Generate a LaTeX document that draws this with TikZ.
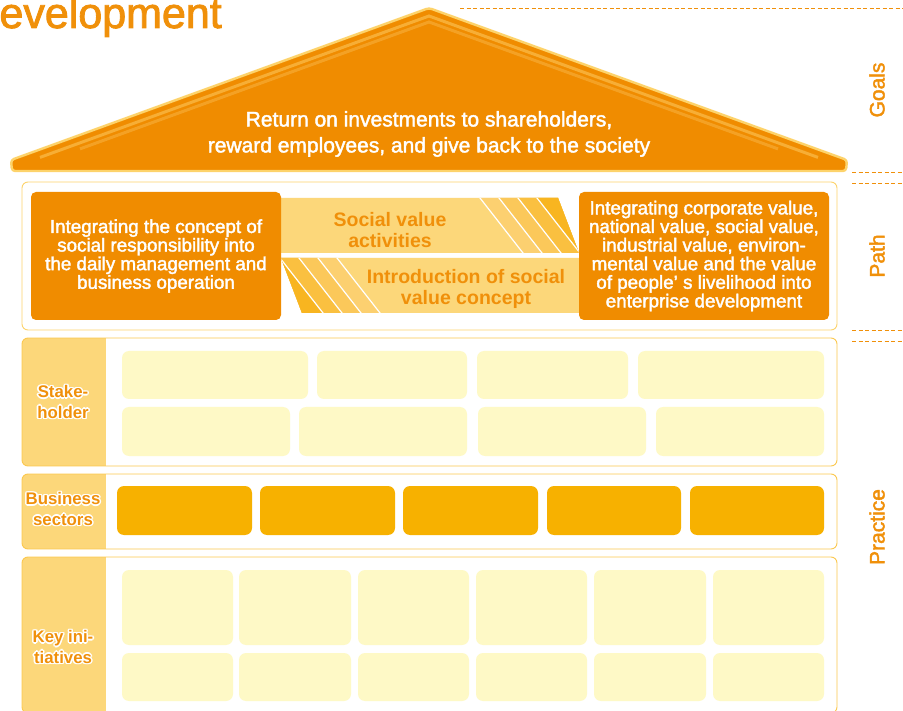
\documentclass[tikz,border=0pt]{standalone}
\usepackage{fontspec}
\setmainfont{Liberation Sans}
\newfontfamily\medfont{Liberation Sans}[FakeBold=2]
\usetikzlibrary{calc}
\definecolor{dorange}{HTML}{F08C00}
\definecolor{torange}{HTML}{F0900A}
\definecolor{band}{HTML}{FCD77A}
\definecolor{sA}{HTML}{FCD070}
\definecolor{sB}{HTML}{FBC85A}
\definecolor{sC}{HTML}{FAC040}
\definecolor{sD}{HTML}{F8B520}
\definecolor{cream}{HTML}{FEF9C6}
\definecolor{gold}{HTML}{F7B100}
\definecolor{rim}{HTML}{FBC84E}
\definecolor{roofrim}{HTML}{FDD36B}
\definecolor{roofA}{HTML}{F7AE35}
\definecolor{roofB}{HTML}{F4A124}
\tikzset{
  guide/.style={draw=torange, line width=0.9pt, dash pattern=on 4pt off 2.5pt},
  orangebox/.style={fill=dorange, rounded corners=5pt, minimum width=250pt, minimum height=128pt,
     text=white, align=center, inner sep=0pt, font=\medfont\fontsize{18.8}{18.6}\selectfont},
  bandtext/.style={text=torange, align=center, inner sep=0pt, font=\bfseries\fontsize{19.5}{21.5}\selectfont},
  sidelbl/.style={align=center, inner sep=0pt, font=\bfseries\fontsize{16.8}{20.5}\selectfont},
  sectlbl/.style={text=torange, rotate=90, inner sep=0pt, font=\medfont\fontsize{21}{21}\selectfont},
  cellA/.style={fill=cream, rounded corners=7pt},
  cellB/.style={fill=gold, rounded corners=7pt},
}
\newcommand\practicepanel[2]{%
  \path[fill=white, rounded corners=6pt] (22,#1) rectangle (837,#2);
  \begin{scope}
    \clip[rounded corners=6pt] (22,#1) rectangle (837,#2);
    \fill[band] (22,#1) rectangle (106,#2);
  \end{scope}
  \draw[rim, line width=0.9pt, rounded corners=6pt] (22,#1) rectangle (837,#2);
}
\newcommand\halotext[3]{%
  \foreach \a in {0,45,...,315} {\node[sidelbl, text=white] (#1h\a) at ($(63,#2)+(\a:1.6)$) {#3};}
  \node[sidelbl, text=torange] (#1) at (63,#2) {#3};
}
\begin{document}
\begin{tikzpicture}[x=1pt,y=-1pt]
\useasboundingbox (0,0) rectangle (903,711);

% title (cut at the page edge)
\node[anchor=base east, inner sep=0pt, text=torange, font=\medfont\fontsize{43}{43}\selectfont] (title) at (222,28) {Development};

% dashed guides
\foreach \n/\xa/\y in {g0/460/8, g1/852/172, g2/852/183, g3/852/330, g4/852/341} {
  \coordinate (\n a) at (\xa,\y);
  \coordinate (\n b) at (903,\y);
  \draw[guide] (\n a) -- (\n b);
}

% roof
\path[fill=dorange, draw=roofrim, line width=2.4pt, rounded corners=3pt, line join=round]
  (429,8) -- (847,160) -- (846,171) -- (12,171) -- (11,160) -- cycle;
\draw[roofA, line width=3pt, line join=miter] (40,157.4) -- (429,16) -- (818,157.4);
\draw[roofB, line width=3pt, line join=miter] (80,148.9) -- (429,22) -- (778,148.9);
\node[font=\medfont\fontsize{21}{26}\selectfont, text=white, align=center, inner sep=0pt] (goaltext) at (429,134)
  {Return on investments to shareholders,\\reward employees, and give back to the society};

% path panel
\path[fill=white, draw=roofrim, line width=0.9pt, rounded corners=6pt] (22,182) rectangle (837,330);

% upper band
\begin{scope}
  \clip (281,198) -- (558,198) -- (579,253) -- (281,253) -- cycle;
  \fill[band] (270,190) rectangle (600,260);
  \foreach \t/\c in {480/sA,499/sB,518/sC,537/sD} {
    \fill[\c] (\t-43,143) -- (\t+86,308) -- (\t+400,308) -- (\t+300,143) -- cycle;
  }
  \foreach \t in {480,499,518,537} {\draw[white, line width=1.2pt] (\t-43,143) -- (\t+86,308);}
\end{scope}
% lower band
\begin{scope}
  \clip (281,258) -- (579,258) -- (579,313) -- (302,313) -- cycle;
  \fill[band] (270,250) rectangle (600,320);
  \foreach \t/\c in {337/sA,318/sB,299/sC,280/sD} {
    \fill[\c] (\t-43,203) -- (\t+86,368) -- (\t-300,368) -- (\t-300,203) -- cycle;
  }
  \foreach \t in {337,318,299,280} {\draw[white, line width=1.2pt] (\t-43,203) -- (\t+86,368);}
\end{scope}
\node[bandtext] (sva) at (390,230) {Social value\\activities};
\node[bandtext] (isv) at (466,289) {Introduction of social\\value concept};

% path boxes
\node[orangebox] (lbox) at (156,256) {Integrating the concept of\\social responsibility into\\the daily management and\\business operation};
\node[orangebox] (rbox) at (704,256) {Integrating corporate value,\\national value, social value,\\industrial value, environ-\\mental value and the value\\of people’ s livelihood into\\enterprise development};

% practice panels
\practicepanel{338}{466}
\practicepanel{474}{549}
\practicepanel{557}{713}

% stakeholder cells
\foreach \xa/\xb in {122/308,317/467,477/628,638/824} {\path[cellA] (\xa,351) rectangle (\xb,399);}
\foreach \xa/\xb in {122/290,299/467,478/646,656/824} {\path[cellA] (\xa,407) rectangle (\xb,456);}
% business cells
\foreach \xa/\xb in {117/252,260/395,403/538,547/681,690/824} {\path[cellB] (\xa,486) rectangle (\xb,535);}
% key initiative cells
\foreach \xa/\xb in {122/233,239/351,358/469,476/587,594/706,713/824} {
  \path[cellA] (\xa,570) rectangle (\xb,645);
  \path[cellA] (\xa,653) rectangle (\xb,701);
}

% row labels
\halotext{stake}{402}{Stake-\\holder}
\halotext{bus}{509}{Business\\sectors}
\halotext{key}{647}{Key ini-\\tiatives}

% section labels
\node[sectlbl] (goals) at (877,90) {Goals};
\node[sectlbl] (path) at (877,256) {Path};
\node[sectlbl] (practice) at (877,527) {Practice};
\end{tikzpicture}
\end{document}
